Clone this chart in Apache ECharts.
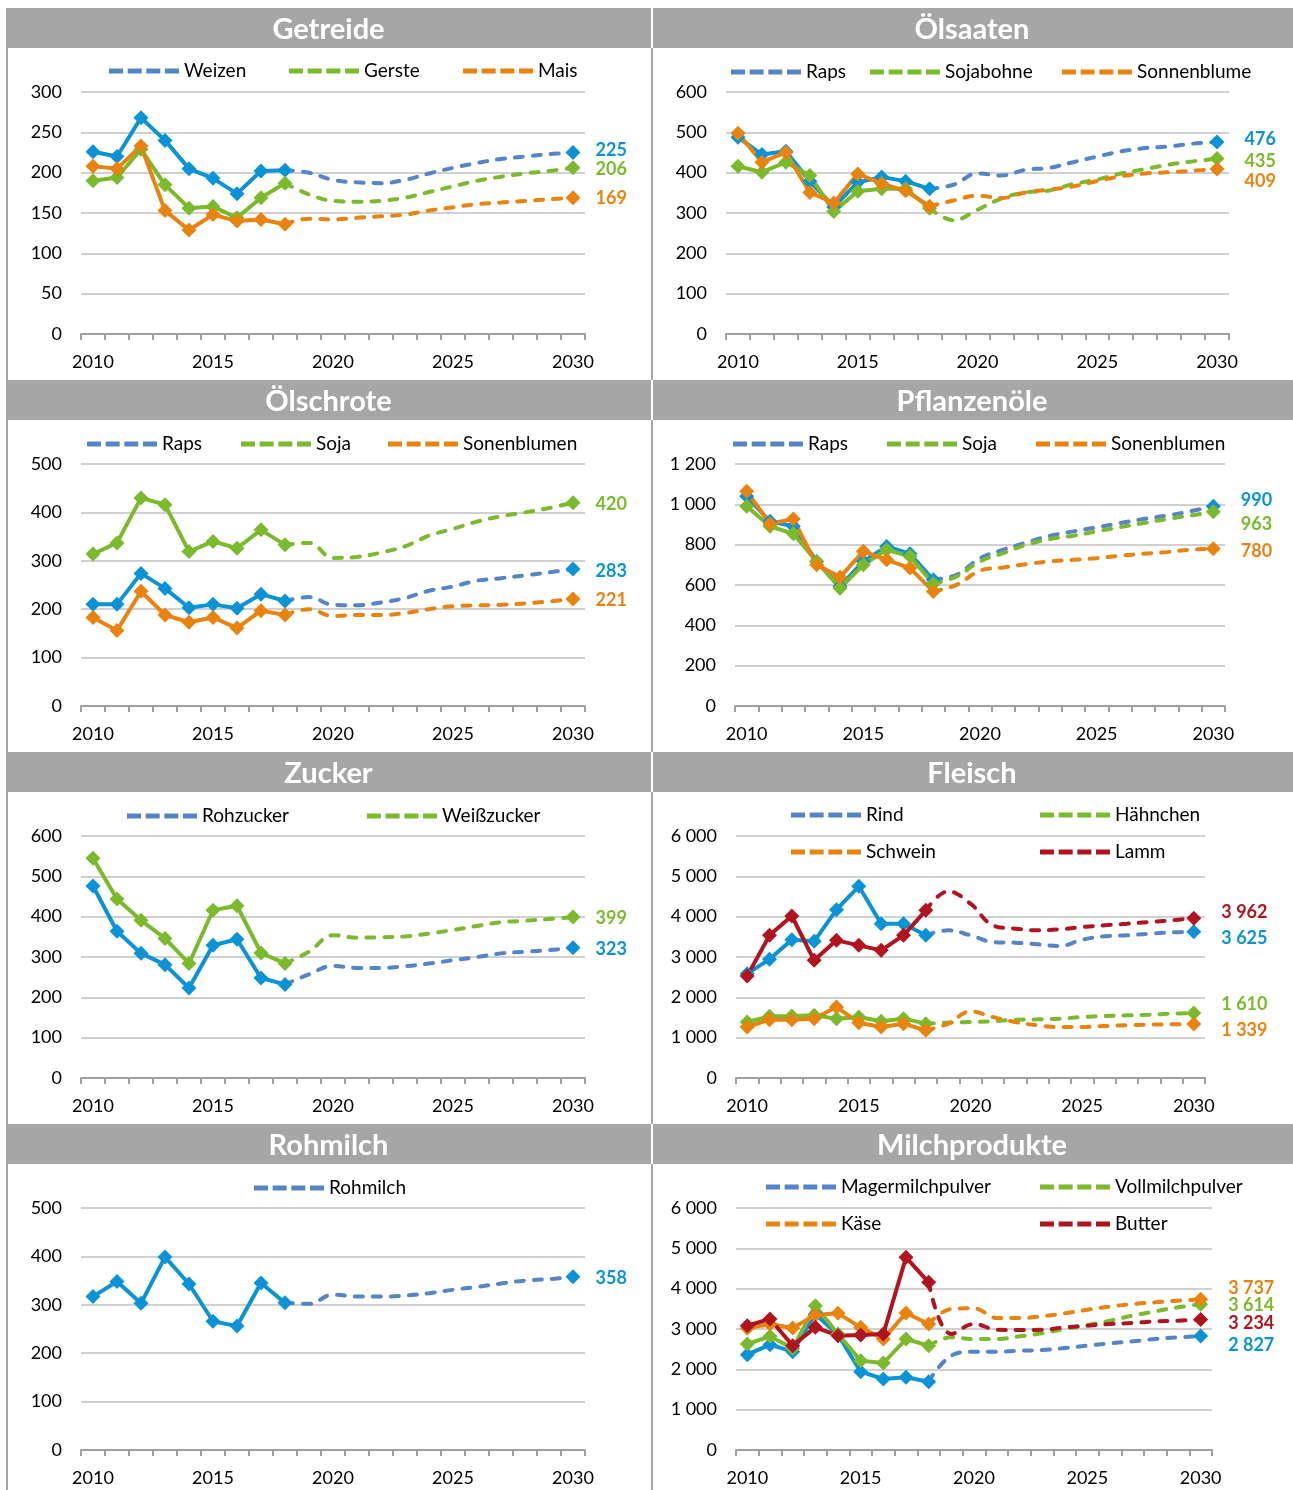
<!DOCTYPE html>
<html lang="de">
<head>
<meta charset="utf-8">
<title>Preisprojektionen 2010–2030</title>
<script src="https://cdn.jsdelivr.net/npm/echarts@6/dist/echarts.min.js"></script>
<style>
  html, body { margin: 0; padding: 0; background: #fff; }
  #page { position: relative; width: 1293px; height: 1490px; }
  .panel { position: absolute; }
</style>
</head>
<body>
<div id="page"></div>
<script>
// x-Achse: Jahre
const years = ['2010', '2011', '2012', '2013', '2014', '2015', '2016', '2017', '2018', '2019', '2020',
  '2021', '2022', '2023', '2024', '2025', '2026', '2027', '2028', '2029', '2030']
const progStart = '2018'   // Projektion beginnt am letzten Ist-Jahr

// Getreide
const weizenIst = [226, 220, 268, 240, 205, 193, 174, 202, 203]
const weizenProg = [203, 200, 191, 188, 187, 191, 199, 206, 212, 217, 220, 223, 225]
const gersteIst = [190, 194, 229, 185, 156, 158, 144, 169, 187]
const gersteProg = [187, 173, 165, 164, 165, 169, 176, 183, 190, 195, 199, 202, 206]
const maisIst = [208, 205, 233, 153, 129, 148, 140, 142, 136]
const maisProg = [136, 143, 142, 144, 146, 148, 153, 157, 161, 163, 165, 167, 169]

// Ölsaaten
const rapsSaatIst = [488, 445, 453, 379, 315, 376, 389, 379, 360]
const rapsSaatProg = [360, 370, 398, 393, 407, 412, 426, 440, 453, 461, 465, 472, 476]
const sojabohneIst = [416, 401, 426, 393, 304, 354, 360, 360, 312]
const sojabohneProg = [312, 282, 308, 336, 351, 356, 372, 383, 398, 409, 420, 428, 435]
const sonnenblumeIst = [498, 426, 450, 351, 325, 397, 373, 355, 317]
const sonnenblumeProg = [317, 331, 343, 337, 351, 358, 366, 379, 391, 398, 401, 405, 409]

// Ölschrote
const rapsSchrotIst = [210, 210, 274, 243, 203, 210, 202, 231, 217]
const rapsSchrotProg = [217, 225, 209, 208, 214, 223, 238, 247, 259, 264, 270, 276, 283]
const sojaSchrotIst = [314, 337, 430, 416, 319, 340, 326, 364, 333]
const sojaSchrotProg = [333, 337, 306, 308, 317, 330, 352, 366, 381, 392, 400, 409, 420]
const sonnenSchrotIst = [183, 156, 237, 188, 173, 183, 161, 197, 188]
const sonnenSchrotProg = [188, 200, 186, 188, 188, 192, 200, 206, 208, 209, 212, 216, 221]

// Pflanzenöle
const rapsOelIst = [1040, 916, 891, 717, 593, 717, 791, 755, 626]
const rapsOelProg = [626, 651, 733, 775, 811, 844, 866, 886, 907, 927, 944, 965, 990]
const sojaOelIst = [990, 891, 854, 717, 584, 700, 775, 742, 606]
const sojaOelProg = [606, 642, 717, 758, 800, 828, 844, 866, 887, 907, 927, 944, 963]
const sonnenOelIst = [1065, 904, 927, 700, 639, 767, 725, 684, 568]
const sonnenOelProg = [568, 601, 671, 687, 704, 717, 725, 733, 745, 755, 763, 775, 780]

// Zucker
const rohzuckerIst = [476, 364, 309, 281, 223, 329, 344, 248, 232]
const rohzuckerProg = [232, 257, 278, 273, 273, 277, 284, 292, 300, 309, 313, 317, 323]
const weisszuckerIst = [545, 444, 391, 346, 284, 416, 427, 310, 284]
const weisszuckerProg = [284, 313, 354, 348, 349, 351, 358, 367, 377, 386, 390, 394, 399]

// Fleisch
const rindIst = [2587, 2942, 3430, 3388, 4174, 4752, 3826, 3826, 3537]
const rindProg = [3537, 3661, 3537, 3372, 3355, 3314, 3273, 3430, 3512, 3537, 3578, 3610, 3625]
const haehnchenIst = [1388, 1529, 1537, 1554, 1471, 1512, 1405, 1471, 1347]
const haehnchenProg = [1347, 1372, 1388, 1405, 1446, 1455, 1471, 1512, 1537, 1554, 1570, 1595, 1610]
const schweinIst = [1264, 1446, 1446, 1471, 1760, 1372, 1264, 1347, 1182]
const schweinProg = [1182, 1347, 1653, 1512, 1388, 1306, 1264, 1264, 1289, 1306, 1322, 1331, 1339]
const lammIst = [2529, 3537, 4017, 2917, 3413, 3289, 3165, 3537, 4157]
const lammProg = [4157, 4628, 4322, 3785, 3702, 3661, 3686, 3744, 3785, 3826, 3868, 3909, 3962]

// Rohmilch
const rohmilchIst = [317, 348, 303, 399, 343, 266, 256, 345, 304]
const rohmilchProg = [304, 302, 321, 317, 317, 319, 324, 331, 337, 344, 350, 353, 358]

// Milchprodukte
const magerIst = [2364, 2612, 2438, 3372, 2860, 1942, 1760, 1802, 1694]
const magerProg = [1694, 2339, 2438, 2438, 2463, 2479, 2529, 2587, 2645, 2694, 2752, 2793, 2827]
const vollIst = [2628, 2818, 2521, 3579, 2876, 2215, 2157, 2752, 2587]
const vollProg = [2587, 2793, 2752, 2752, 2818, 2893, 3000, 3099, 3207, 3331, 3438, 3537, 3614]
const kaeseIst = [3017, 3124, 3025, 3347, 3388, 3041, 2752, 3397, 3124]
const kaeseProg = [3124, 3496, 3512, 3273, 3273, 3314, 3388, 3479, 3554, 3620, 3661, 3702, 3737]
const butterIst = [3083, 3248, 2587, 3041, 2835, 2851, 2876, 4777, 4157]
const butterProg = [4157, 2876, 3124, 2983, 2975, 2983, 3041, 3083, 3124, 3149, 3190, 3207, 3234]

// Farben
const BLUE = '#0B93D5'
const BLUE_DASH = '#5585C5'
const GREEN = '#7BBA2C'
const ORANGE = '#E8830F'
const RED = '#B0141E'
const BAR = '#A6A6A6'
const FONT = 'Lato, "Open Sans", sans-serif'
// Legendensymbol: gestrichelte Linie
const DASH_ICON = 'path://M0,0h14v5h-14z M18.67,0h14v5h-14z M37.33,0h14v5h-14z M56,0h14v5h-14z'

const L = { x: 6, w: 645, bar: 0, gap: 15 }
const R = { x: 651, w: 642, bar: 2, gap: 20 }

const panels = [
  { title: 'Getreide', col: L, y: 8, h: 372, gridLeft: 75, gridWidth: 504, yMax: 300, yStep: 50, lines: [
    { name: 'Weizen', ist: weizenIst, prog: weizenProg, color: BLUE, dash: BLUE_DASH, lx: 103, ly: 63, dy: -2 },
    { name: 'Gerste', ist: gersteIst, prog: gersteProg, color: GREEN, dash: GREEN, lx: 283, ly: 63, dy: 1 },
    { name: 'Mais', ist: maisIst, prog: maisProg, color: ORANGE, dash: ORANGE, lx: 457, ly: 63, dy: 1 }
  ] },
  { title: 'Ölsaaten', col: R, y: 8, h: 372, gridLeft: 75, gridWidth: 503, yMax: 600, yStep: 100, lines: [
    { name: 'Raps', ist: rapsSaatIst, prog: rapsSaatProg, color: BLUE, dash: BLUE_DASH, lx: 80, ly: 64, dy: -3 },
    { name: 'Sojabohne', ist: sojabohneIst, prog: sojabohneProg, color: GREEN, dash: GREEN, lx: 219, ly: 64, dy: 3 },
    { name: 'Sonnenblume', ist: sonnenblumeIst, prog: sonnenblumeProg, color: ORANGE, dash: ORANGE, lx: 411, ly: 64, dy: 12 }
  ] },
  { title: 'Ölschrote', col: L, y: 380, h: 372, gridLeft: 75, gridWidth: 504, yMax: 500, yStep: 100, lines: [
    { name: 'Raps', ist: rapsSchrotIst, prog: rapsSchrotProg, color: BLUE, dash: BLUE_DASH, lx: 81, ly: 64, dy: 2 },
    { name: 'Soja', ist: sojaSchrotIst, prog: sojaSchrotProg, color: GREEN, dash: GREEN, lx: 235, ly: 64, dy: 1 },
    { name: 'Sonenblumen', ist: sonnenSchrotIst, prog: sonnenSchrotProg, color: ORANGE, dash: ORANGE, lx: 382, ly: 64, dy: 1 }
  ] },
  { title: 'Pflanzenöle', col: R, y: 380, h: 372, gridLeft: 84, gridWidth: 490, yMax: 1200, yStep: 200, lines: [
    { name: 'Raps', ist: rapsOelIst, prog: rapsOelProg, color: BLUE, dash: BLUE_DASH, lx: 82, ly: 64, dy: -6 },
    { name: 'Soja', ist: sojaOelIst, prog: sojaOelProg, color: GREEN, dash: GREEN, lx: 236, ly: 64, dy: 12 },
    { name: 'Sonenblumen', ist: sonnenOelIst, prog: sonnenOelProg, color: ORANGE, dash: ORANGE, lx: 385, ly: 64, dy: 2 }
  ] },
  { title: 'Zucker', col: L, y: 752, h: 372, gridLeft: 75, gridWidth: 504, yMax: 600, yStep: 100, lines: [
    { name: 'Rohzucker', ist: rohzuckerIst, prog: rohzuckerProg, color: BLUE, dash: BLUE_DASH, lx: 121, ly: 64, dy: 1 },
    { name: 'Weißzucker', ist: weisszuckerIst, prog: weisszuckerProg, color: GREEN, dash: GREEN, lx: 361, ly: 64, dy: 1 }
  ] },
  { title: 'Fleisch', col: R, y: 752, h: 372, gridLeft: 85, gridWidth: 469, yMax: 6000, yStep: 1000, lines: [
    { name: 'Rind', ist: rindIst, prog: rindProg, color: BLUE, dash: BLUE_DASH, lx: 140, ly: 63, dy: 6 },
    { name: 'Hähnchen', ist: haehnchenIst, prog: haehnchenProg, color: GREEN, dash: GREEN, lx: 389, ly: 63, dy: -9 },
    { name: 'Schwein', ist: schweinIst, prog: schweinProg, color: ORANGE, dash: ORANGE, lx: 140, ly: 100, dy: 6 },
    { name: 'Lamm', ist: lammIst, prog: lammProg, color: RED, dash: RED, lx: 389, ly: 100, dy: -6 }
  ] },
  { title: 'Rohmilch', col: L, y: 1124, h: 366, gridLeft: 75, gridWidth: 504, yMax: 500, yStep: 100, lines: [
    { name: 'Rohmilch', ist: rohmilchIst, prog: rohmilchProg, color: BLUE, dash: BLUE_DASH, lx: 248, ly: 64, dy: 1 }
  ] },
  { title: 'Milchprodukte', col: R, y: 1124, h: 366, gridLeft: 85, gridWidth: 476, yMax: 6000, yStep: 1000, lines: [
    { name: 'Magermilchpulver', ist: magerIst, prog: magerProg, color: BLUE, dash: BLUE_DASH, lx: 115, ly: 63, dy: 9 },
    { name: 'Vollmilchpulver', ist: vollIst, prog: vollProg, color: GREEN, dash: GREEN, lx: 389, ly: 63, dy: 1 },
    { name: 'Käse', ist: kaeseIst, prog: kaeseProg, color: ORANGE, dash: ORANGE, lx: 115, ly: 100, dy: -11 },
    { name: 'Butter', ist: butterIst, prog: butterProg, color: RED, dash: RED, lx: 389, ly: 100, dy: 4 }
  ] }
]

// Tausendertrennzeichen mit Leerzeichen
const fmt = v => String(v).replace(/\B(?=(\d{3})+(?!\d))/g, ' ')

function progData(line, gap) {
  const offset = years.indexOf(progStart)
  const data = years.map(() => null)
  line.prog.forEach((v, i) => {
    const last = i === line.prog.length - 1
    data[offset + i] = !last ? v : {
      value: v,
      symbol: 'diamond',
      symbolSize: 15,
      label: {
        show: true,
        position: 'right',
        distance: gap,
        offset: [0, line.dy],
        color: line.color,
        fontFamily: FONT,
        fontSize: 18,
        fontWeight: 'bold',
        formatter: () => fmt(v)
      }
    }
  })
  return data
}

function buildOption(p) {
  const series = []
  const legend = []
  p.lines.forEach(l => {
    // Ist-Werte
    series.push({
      name: l.name,
      type: 'line',
      data: l.ist,
      symbol: 'diamond',
      symbolSize: 15,
      showAllSymbol: true,
      lineStyle: { color: l.color, width: 4 },
      itemStyle: { color: l.color, borderWidth: 0 },
      z: 3
    })
    // Projektion
    series.push({
      name: l.name,
      type: 'line',
      data: progData(l, p.col.gap),
      symbol: 'none',
      showAllSymbol: true,
      smooth: 0.4,
      lineStyle: { color: l.dash, width: 4, type: [8, 10], cap: 'round' },
      itemStyle: { color: l.color, borderWidth: 0 },
      z: 2
    })
    legend.push({
      data: [l.name],
      left: l.lx,
      top: l.ly - 11,
      padding: 0,
      icon: DASH_ICON,
      itemWidth: 70,
      itemHeight: 5,
      itemStyle: { color: l.dash, borderWidth: 0 },
      textStyle: { fontFamily: FONT, fontSize: 19, color: '#000', lineHeight: 22 }
    })
  })

  return {
    animation: false,
    backgroundColor: '#fff',
    title: {
      text: p.title,
      left: 'center',
      top: 4,
      padding: 0,
      textStyle: { color: '#fff', fontFamily: FONT, fontSize: 29, fontWeight: 'bold', lineHeight: 36 }
    },
    graphic: [
      { type: 'rect', silent: true, z: -1, shape: { x: p.col.bar, y: 0, width: p.col.w - p.col.bar, height: 40 }, style: { fill: BAR } },
      { type: 'rect', silent: true, z: -1, shape: { x: 0, y: 40, width: 2, height: p.h - 40 }, style: { fill: BAR } }
    ],
    legend,
    grid: { left: p.gridLeft, top: 84, width: p.gridWidth, height: 242, containLabel: false, outerBoundsMode: 'none' },
    xAxis: {
      type: 'category',
      data: years,
      boundaryGap: true,
      axisLine: { show: true, lineStyle: { color: '#A0A0A0', width: 2 } },
      axisTick: { show: true, interval: 0, length: 6, lineStyle: { color: '#A0A0A0', width: 2 } },
      axisLabel: { interval: 4, margin: 19, color: '#000', fontFamily: FONT, fontSize: 18 },
      splitLine: { show: false }
    },
    yAxis: {
      type: 'value',
      min: 0,
      max: p.yMax,
      interval: p.yStep,
      axisLine: { show: false },
      axisTick: { show: false },
      axisLabel: { margin: 19, color: '#000', fontFamily: FONT, fontSize: 18, formatter: v => fmt(v) },
      splitLine: { lineStyle: { color: '#D0D0D0', width: 2 } }
    },
    series
  }
}

const page = document.getElementById('page')
panels.forEach(p => {
  const div = document.createElement('div')
  div.className = 'panel'
  div.style.left = p.col.x + 'px'
  div.style.top = p.y + 'px'
  div.style.width = p.col.w + 'px'
  div.style.height = p.h + 'px'
  page.appendChild(div)
  const chart = echarts.init(div, null, { renderer: 'canvas' })
  chart.setOption(buildOption(p))
})
</script>
</body>
</html>
